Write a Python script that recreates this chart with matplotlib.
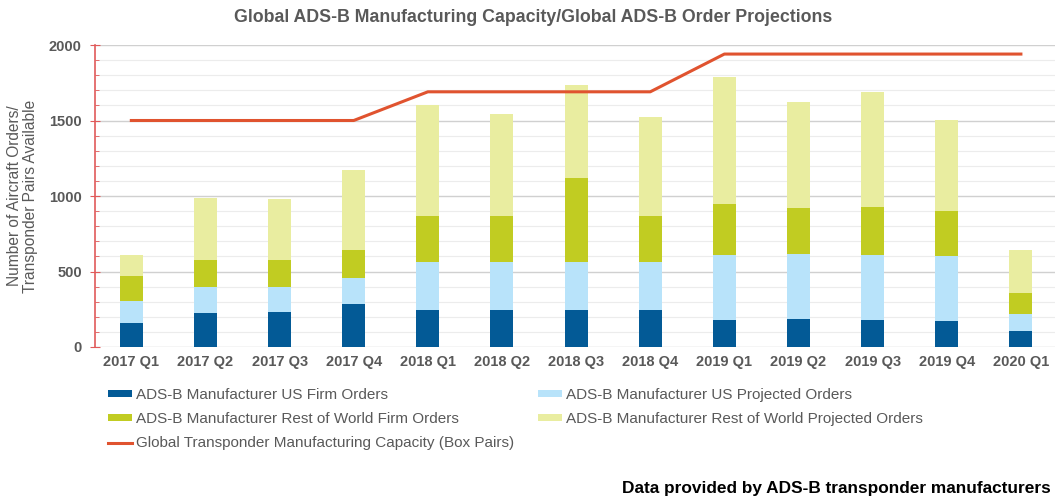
import numpy as np
import matplotlib
matplotlib.use("Agg")
import matplotlib.pyplot as plt
from matplotlib.ticker import MultipleLocator

plt.rcParams["font.family"] = ["Liberation Sans", "DejaVu Sans"]

# 数据
quarters = ["2017 Q1", "2017 Q2", "2017 Q3", "2017 Q4",
            "2018 Q1", "2018 Q2", "2018 Q3", "2018 Q4",
            "2019 Q1", "2019 Q2", "2019 Q3", "2019 Q4", "2020 Q1"]
us_firm = [160, 225, 230, 285, 245, 245, 245, 245, 180, 188, 180, 170, 105]
us_proj = [145, 175, 170, 170, 320, 320, 320, 320, 430, 425, 430, 430, 115]
row_firm = [165, 175, 175, 190, 300, 300, 555, 300, 335, 310, 320, 300, 140]
row_proj = [140, 413, 405, 530, 740, 680, 615, 655, 845, 700, 760, 600, 280]
capacity = [1500, 1500, 1500, 1500, 1690, 1690, 1690, 1690,
            1940, 1940, 1940, 1940, 1940]

series = [
    ("ADS-B Manufacturer US Firm Orders", us_firm, "#035a96"),
    ("ADS-B Manufacturer US Projected Orders", us_proj, "#b8e3fa"),
    ("ADS-B Manufacturer Rest of World Firm Orders", row_firm, "#c1cc22"),
    ("ADS-B Manufacturer Rest of World Projected Orders", row_proj, "#e9eda0"),
]

gray = "#595959"
W, H = 1055, 498

fig = plt.figure(figsize=(10.55, 4.98), dpi=100)
ax = fig.add_axes([95 / W, 1 - 347 / H, 960 / W, 302 / H])

x = np.arange(len(quarters))
bottom = np.zeros(len(quarters))
bars = []
for name, vals, col in series:
    b = ax.bar(x, vals, width=0.31, bottom=bottom, color=col, label=name, zorder=2)
    bars.append(b)
    bottom += np.array(vals)

ln, = ax.plot(x, capacity, color="#e0532f", lw=2.2, zorder=3,
              label="Global Transponder Manufacturing Capacity (Box Pairs)")

ax.set_xlim(-0.49, 12.46)
ax.set_ylim(0, 2000)
ax.set_xticks(x)
ax.set_xticklabels(quarters)
ax.yaxis.set_major_locator(MultipleLocator(500))
ax.yaxis.set_minor_locator(MultipleLocator(100))
ax.grid(axis="y", which="major", color="#d0d0d0", lw=1, zorder=0)
ax.grid(axis="y", which="minor", color="#ececec", lw=0.8, zorder=0)

for s in ["top", "right", "bottom"]:
    ax.spines[s].set_visible(False)
ax.spines["left"].set_color("#e05a5a")
ax.spines["left"].set_linewidth(1.2)
ax.tick_params(axis="y", which="major", direction="inout", length=7,
               color="#e05a5a", labelcolor=gray, labelsize=10.5, pad=6)
ax.tick_params(axis="y", which="minor", direction="in", length=3,
               color="#e05a5a")
ax.tick_params(axis="x", length=0, labelcolor=gray, labelsize=10.5, pad=6)
for t in ax.get_xticklabels() + ax.get_yticklabels():
    t.set_fontweight("bold")

ax.set_ylabel("Number of Aircraft Orders/\nTransponder Pairs Available",
              color=gray, fontsize=11.2, labelpad=8, linespacing=1.05)

fig.text(0.505, 1 - 18 / H, "Global ADS-B Manufacturing Capacity/Global ADS-B Order Projections",
         ha="center", va="center", color=gray, fontsize=12.8, fontweight="bold")

# 图例：两列，按行排列
leg_kw = dict(loc="upper left", frameon=False, fontsize=11, handlelength=1.6,
              handleheight=0.35, handletextpad=0.2, labelspacing=0.66,
              borderpad=0, borderaxespad=0, labelcolor=gray)
fig.legend(handles=[bars[0], bars[2], ln], bbox_to_anchor=(108 / W, 1 - 388 / H), **leg_kw)
fig.legend(handles=[bars[1], bars[3]], bbox_to_anchor=(538 / W, 1 - 388 / H), **leg_kw)

fig.text(1051 / W, 1 - 488 / H, "Data provided by ADS-B transponder manufacturers",
         ha="right", va="center", color="black", fontsize=12.4, fontweight="bold")

fig.savefig("out.png", dpi=100)
